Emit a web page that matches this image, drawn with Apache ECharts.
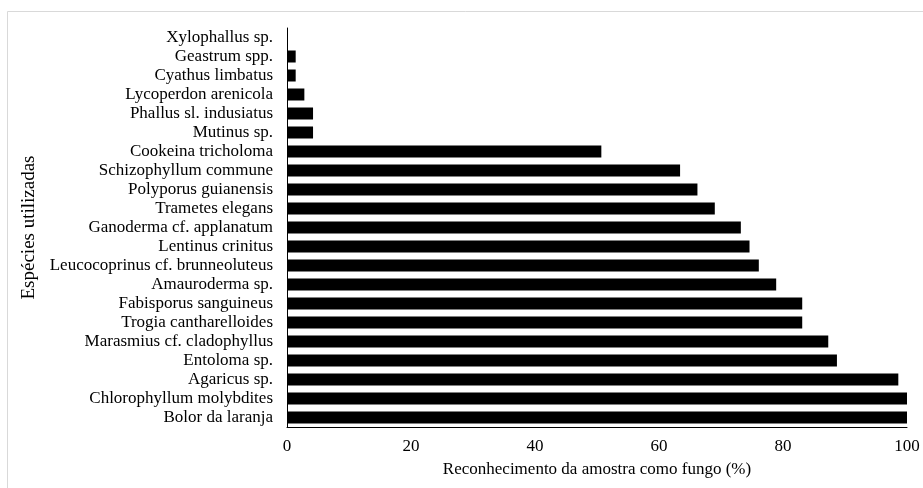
<!DOCTYPE html>
<html>
<head>
<meta charset="utf-8">
<script src="https://cdn.jsdelivr.net/npm/echarts@6/dist/echarts.min.js"></script>
<style>html,body{margin:0;padding:0;background:#fff}#c{width:923px;height:488px}</style>
</head>
<body>
<div id="c"></div>
<script>
// Categories listed bottom-to-top
const categories = [
  "Bolor da laranja",
  "Chlorophyllum molybdites",
  "Agaricus sp.",
  "Entoloma sp.",
  "Marasmius cf. cladophyllus",
  "Trogia cantharelloides",
  "Fabisporus sanguineus",
  "Amauroderma sp.",
  "Leucocoprinus cf. brunneoluteus",
  "Lentinus crinitus",
  "Ganoderma cf. applanatum",
  "Trametes elegans",
  "Polyporus guianensis",
  "Schizophyllum commune",
  "Cookeina tricholoma",
  "Mutinus sp.",
  "Phallus sl. indusiatus",
  "Lycoperdon arenicola",
  "Cyathus limbatus",
  "Geastrum spp.",
  "Xylophallus sp."
];
const values = [100, 100, 98.6, 88.7, 87.3, 83.1, 83.1, 78.9, 76.1, 74.6, 73.2, 69.0, 66.2, 63.4, 50.7, 4.2, 4.2, 2.8, 1.4, 1.4, 0];
const xTicks = [0, 20, 40, 60, 80, 100];

const font = "'Liberation Serif', 'Times New Roman', serif";
const chart = echarts.init(document.getElementById('c'));
chart.setOption({
  animation: false,
  backgroundColor: '#fff',
  graphic: [{
    type: 'rect', shape: { x: 7.5, y: 11.5, width: 940, height: 500 },
    style: { fill: 'none', stroke: '#d9d9d9', lineWidth: 1 }, silent: true
  }],
  grid: { left: 287, right: 16, top: 28, bottom: 61 },
  xAxis: {
    type: 'value', min: xTicks[0], max: xTicks[xTicks.length - 1], interval: 20,
    name: 'Reconhecimento da amostra como fungo (%)',
    nameLocation: 'middle', nameGap: 34,
    nameTextStyle: { fontFamily: font, fontSize: 17, color: '#000', verticalAlign: 'top' },
    axisLine: { show: true, lineStyle: { color: '#000', width: 1 } },
    axisTick: { show: false },
    splitLine: { show: false },
    axisLabel: { fontFamily: font, fontSize: 17, color: '#000', margin: 11 }
  },
  yAxis: {
    type: 'category', data: categories,
    name: 'Espécies utilizadas', nameLocation: 'middle', nameGap: 238,
    nameTextStyle: { fontFamily: font, fontSize: 19, color: '#000' },
    axisLine: { show: true, lineStyle: { color: '#000', width: 1 } },
    axisTick: { show: false },
    axisLabel: { interval: 0, hideOverlap: false, fontFamily: font, fontSize: 17, lineHeight: 17, color: '#000', margin: 14 }
  },
  series: [{
    type: 'bar', data: values, barWidth: 12,
    itemStyle: { color: '#000' }
  }]
});
</script>
</body>
</html>
